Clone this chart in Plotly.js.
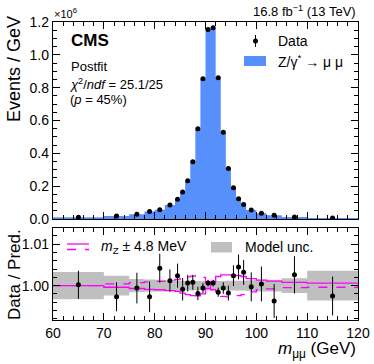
<!DOCTYPE html>
<html>
<head>
<meta charset="utf-8">
<script src="https://cdn.plot.ly/plotly-3.0.1.min.js"></script>
<style>
  html, body { margin: 0; padding: 0; background: #fff; }
  #chart { width: 374px; height: 364px; }
</style>
</head>
<body>
<div id="chart"></div>
<script>
// bin edges of m_mumu (GeV)
const binEdges = [60, 70, 75, 78, 80, 82, 84, 85, 86, 87, 88, 89, 90, 91, 92, 93, 94, 95, 96, 97, 98, 100, 102, 105, 110, 120];

// Events / GeV, in units of 1e6
const dataEvents = [0.010, 0.018, 0.029, 0.045, 0.057, 0.086, 0.120, 0.164, 0.233, 0.349, 0.549, 0.855, 1.155, 1.165, 0.861, 0.529, 0.308, 0.190, 0.124, 0.088, 0.055, 0.035, 0.023, 0.012, 0.006];
const predEvents = [0.010, 0.018, 0.029, 0.045, 0.057, 0.086, 0.120, 0.164, 0.233, 0.349, 0.550, 0.856, 1.154, 1.164, 0.862, 0.529, 0.309, 0.190, 0.123, 0.088, 0.055, 0.035, 0.023, 0.012, 0.006];

// Data / Pred.
const ratioData = [1.0002, 0.9973, 0.9994, 0.9973, 1.0042, 1.0012, 1.0024, 0.9991, 1.0006, 1.0008, 0.9981, 0.9994, 1.0006, 1.0006, 0.9984, 0.9994, 0.9982, 1.0024, 1.0045, 1.0032, 0.9997, 1.0004, 0.9963, 1.0026, 0.9975];
const ratioErr = [0.0034, 0.0035, 0.0037, 0.0037, 0.0035, 0.0027, 0.0029, 0.0027, 0.0020, 0.0018, 0.0016, 0.0012, 0.0008, 0.0008, 0.0011, 0.0014, 0.0018, 0.0025, 0.0030, 0.0030, 0.0035, 0.0042, 0.0041, 0.0045, 0.0047];
const modelUnc = [0.0033, 0.0024, 0.0016, 0.0015, 0.0014, 0.0013, 0.0013, 0.0012, 0.0012, 0.0012, 0.0011, 0.0011, 0.0010, 0.0010, 0.0011, 0.0011, 0.0012, 0.0012, 0.0012, 0.0012, 0.0013, 0.0014, 0.0014, 0.0018, 0.0036];

// ratio of the m_Z +/- 4.8 MeV templates to nominal
const mzUp = [1.0000, 0.9996, 0.9993, 0.9991, 0.9990, 0.9988, 0.9986, 0.9982, 0.9978, 0.9976, 0.9975, 0.9980, 0.9993, 1.0010, 1.0022, 1.0026, 1.0026, 1.0025, 1.0024, 1.0022, 1.0017, 1.0013, 1.0011, 1.0008, 1.0006];
const mzDown = [1.0000, 1.0004, 1.0007, 1.0009, 1.0010, 1.0013, 1.0015, 1.0018, 1.0021, 1.0023, 1.0024, 1.0020, 1.0006, 0.9990, 0.9978, 0.9974, 0.9973, 0.9974, 0.9976, 0.9978, 0.9985, 0.9990, 0.9992, 0.9995, 0.9996];

const centers = binEdges.slice(0, -1).map((e, i) => (e + binEdges[i + 1]) / 2);
const stepY = arr => arr.concat([arr[arr.length - 1]]);

const FONT = 'Liberation Sans, Arial, Helvetica, sans-serif';
const BLUE = '#5790fc';
const MAGENTA = '#ff00ff';
const GREY = '#bfbfbf';

// plot frame in pixels
const L = 53, R = 358, T = 22, B = 320;
const px = x => (x - L) / (R - L);
const py = y => (B - y) / (B - T);

const traces = [
    // Z/gamma* histogram as a filled step
    {
        type: 'scatter', mode: 'lines', x: binEdges, y: stepY(predEvents),
        line: { color: BLUE, width: 0, shape: 'hv' }, fill: 'tozeroy', fillcolor: BLUE,
        xaxis: 'x', yaxis: 'y'
    },
    {
        type: 'scatter', mode: 'markers', x: centers, y: dataEvents,
        marker: { color: '#000', size: 5 },
        xaxis: 'x', yaxis: 'y'
    },
    // model uncertainty band
    {
        type: 'scatter', mode: 'lines', x: binEdges, y: stepY(modelUnc.map(u => 1 - u)),
        line: { width: 0, shape: 'hv' },
        xaxis: 'x2', yaxis: 'y2'
    },
    {
        type: 'scatter', mode: 'lines', x: binEdges, y: stepY(modelUnc.map(u => 1 + u)),
        line: { width: 0, shape: 'hv' }, fill: 'tonexty', fillcolor: GREY,
        xaxis: 'x2', yaxis: 'y2'
    },
    {
        type: 'scatter', mode: 'lines', x: binEdges, y: stepY(mzUp),
        line: { color: MAGENTA, width: 1.3, shape: 'hv' },
        xaxis: 'x2', yaxis: 'y2'
    },
    {
        type: 'scatter', mode: 'lines', x: binEdges, y: stepY(mzDown),
        line: { color: MAGENTA, width: 1.3, shape: 'hv', dash: 'dash' },
        xaxis: 'x2', yaxis: 'y2'
    },
    {
        type: 'scatter', mode: 'markers', x: centers, y: ratioData,
        marker: { color: '#000', size: 5 },
        error_y: { type: 'data', array: ratioErr, thickness: 1, width: 0, color: '#000' },
        xaxis: 'x2', yaxis: 'y2'
    }
];

const axisStyle = {
    showline: true, linecolor: '#000', linewidth: 1.2, mirror: 'allticks',
    ticks: 'inside', ticklen: 7, tickwidth: 1, tickcolor: '#000',
    showgrid: false, zeroline: false,
    tickfont: { family: FONT, size: 14, color: '#000' }
};

const layout = {
    width: 374, height: 364,
    margin: { l: L, r: 374 - R, t: T, b: 364 - B },
    paper_bgcolor: '#fff', plot_bgcolor: '#fff',
    showlegend: false, hovermode: false,
    xaxis: Object.assign({}, axisStyle, {
        domain: [0, 1], anchor: 'y', range: [60, 120], dtick: 10,
        showticklabels: false,
        minor: { ticks: 'inside', dtick: 2, ticklen: 4, tickcolor: '#000' }
    }),
    yaxis: Object.assign({}, axisStyle, {
        domain: [py(219), 1], anchor: 'x', range: [0, 1.2], dtick: 0.2, tickformat: '.1f',
        minor: { ticks: 'inside', dtick: 0.05, ticklen: 4, tickcolor: '#000' }
    }),
    xaxis2: Object.assign({}, axisStyle, {
        domain: [0, 1], anchor: 'y2', range: [60, 120], dtick: 10, matches: 'x',
        minor: { ticks: 'inside', dtick: 2, ticklen: 4, tickcolor: '#000' }
    }),
    yaxis2: Object.assign({}, axisStyle, {
        domain: [0, py(228)], anchor: 'x2', range: [0.9917, 1.0139], dtick: 0.01, tick0: 0,
        tickformat: '.2f',
        minor: { ticks: 'inside', dtick: 0.002, ticklen: 4, tickcolor: '#000' }
    }),
    shapes: [
        // legend: Data
        { type: 'line', xref: 'paper', yref: 'paper', x0: px(255.5), x1: px(255.5), y0: py(35), y1: py(47), line: { color: '#000', width: 1 } },
        { type: 'circle', xref: 'paper', yref: 'paper', x0: px(253), x1: px(258), y0: py(38.5), y1: py(43.5), fillcolor: '#000', line: { width: 0 } },
        // legend: Z/gamma* -> mumu
        { type: 'rect', xref: 'paper', yref: 'paper', x0: px(244), x1: px(266), y0: py(56), y1: py(66), fillcolor: BLUE, line: { width: 0 } },
        // legend: m_Z +/- 4.8 MeV
        { type: 'line', xref: 'paper', yref: 'paper', x0: px(67), x1: px(89), y0: py(244), y1: py(244), line: { color: MAGENTA, width: 1.3 } },
        { type: 'line', xref: 'paper', yref: 'paper', x0: px(67), x1: px(89), y0: py(249.5), y1: py(249.5), line: { color: MAGENTA, width: 1.3, dash: 'dash' } },
        // legend: Model unc.
        { type: 'rect', xref: 'paper', yref: 'paper', x0: px(211), x1: px(232), y0: py(242), y1: py(252.5), fillcolor: GREY, line: { width: 0 } }
    ],
    annotations: [
        { text: '<b>CMS</b>', x: px(69), y: py(40), xanchor: 'left', yanchor: 'middle', font: { size: 17 } },
        { text: 'Postfit', x: px(69), y: py(67), xanchor: 'left', yanchor: 'middle', font: { size: 13 } },
        { text: '<i>χ</i><sup>2</sup>/<i>ndf</i> = 25.1/25', x: px(68), y: py(84), xanchor: 'left', yanchor: 'middle', font: { size: 13 } },
        { text: '(<i>p</i> = 45%)', x: px(68), y: py(99), xanchor: 'left', yanchor: 'middle', font: { size: 13 } },
        { text: '×10<sup>6</sup>', x: px(52), y: py(13), xanchor: 'left', yanchor: 'middle', font: { size: 11 } },
        { text: '16.8 fb<sup>−1</sup> (13 TeV)', x: 1, y: py(11), xanchor: 'right', yanchor: 'middle', font: { size: 13 } },
        { text: 'Data', x: px(276), y: py(41), xanchor: 'left', yanchor: 'middle', font: { size: 14 } },
        { text: 'Z/γ<sup>*</sup> → μ μ', x: px(276), y: py(61), xanchor: 'left', yanchor: 'middle', font: { size: 14 } },
        { text: '<i>m</i><sub>Z</sub> ± 4.8 MeV', x: px(99), y: py(246.5), xanchor: 'left', yanchor: 'middle', font: { size: 14 } },
        { text: 'Model unc.', x: px(243), y: py(247), xanchor: 'left', yanchor: 'middle', font: { size: 14 } },
        { text: 'Events / GeV', x: px(14), y: py(14), xanchor: 'center', yanchor: 'top', textangle: -90, font: { size: 18 } },
        { text: 'Data / Pred.', x: px(14), y: py(275), xanchor: 'center', yanchor: 'middle', textangle: -90, font: { size: 17 } },
        { text: '<i>m</i><sub>μμ</sub> (GeV)', x: 1, y: py(363), xanchor: 'right', yanchor: 'bottom', font: { size: 17 } }
    ].map(a => Object.assign({ xref: 'paper', yref: 'paper', showarrow: false }, a, {
        font: Object.assign({ family: FONT, color: '#000' }, a.font)
    }))
};

Plotly.newPlot('chart', traces, layout, { displayModeBar: false, staticPlot: true });
</script>
</body>
</html>
